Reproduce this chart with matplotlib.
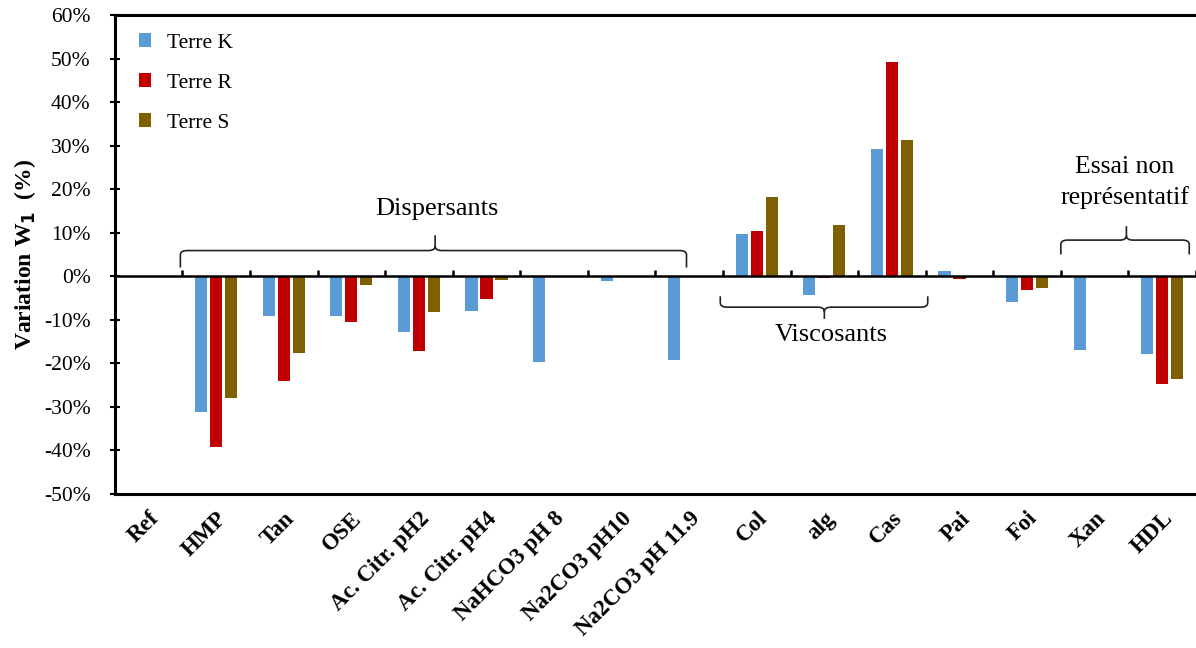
import numpy as np
import matplotlib
matplotlib.use("Agg")
import matplotlib.pyplot as plt
from matplotlib.path import Path
from matplotlib.patches import PathPatch

plt.rcParams['font.family'] = ['Liberation Serif', 'DejaVu Serif']

# data (% variation of W1)
categories = ["Ref", "HMP", "Tan", "OSE", "Ac. Citr. pH2", "Ac. Citr. pH4",
              "NaHCO3 pH 8", "Na2CO3 pH10", "Na2CO3 pH 11.9",
              "Col", "alg", "Cas", "Pai", "Foi", "Xan", "HDL"]
nan = np.nan
terre_k = [0, -31.1, -9.2, -9.1, -12.8, -8.0, -19.6, -1.1, -19.2,
           9.6, -4.4, 29.3, 1.2, -6.0, -16.9, -17.9]
terre_r = [0, -39.2, -24.0, -10.6, -17.1, -5.2, nan, nan, nan,
           10.3, -0.3, 49.2, -0.6, -3.1, nan, -24.7]
terre_s = [0, -28.0, -17.6, -2.1, -8.3, -0.9, nan, nan, nan,
           18.2, 11.8, 31.3, -0.2, -2.7, nan, -23.7]
series_names = ["Terre K", "Terre R", "Terre S"]
colors = ["#5B9BD5", "#C00000", "#7F6000"]

fig = plt.figure(figsize=(11.96, 6.48), dpi=100)
ax = fig.add_axes([0.096, 0.2377, 0.904, 0.7392])

x = np.arange(len(categories))
w = 0.18
offs = [-0.222, 0, 0.222]
for vals, name, c, o in zip([terre_k, terre_r, terre_s], series_names, colors, offs):
    ax.bar(x + o, np.array(vals, dtype=float), w, color=c, label=name,
           edgecolor='none')

ax.set_xlim(-0.5, len(categories) - 0.5)
ax.set_ylim(-50, 60)
ax.set_yticks(np.arange(-50, 61, 10))
ax.set_yticklabels([f"{v}%" for v in range(-50, 61, 10)], fontsize=15.5)
ax.tick_params(axis='y', direction='inout', length=7, width=1.5, pad=14)

ax.set_xticks(x)
ax.set_xticklabels(categories, rotation=45, ha='right', rotation_mode='anchor',
                   fontsize=16.5, fontweight='bold')
ax.tick_params(axis='x', length=0, pad=10)

for s in ['left', 'top', 'bottom']:
    ax.spines[s].set_linewidth(2.2)
ax.spines['right'].set_visible(False)

# zero line with category separators
ax.axhline(0, color='black', lw=1.8, zorder=3)
ax.vlines(np.arange(len(categories) + 1) - 0.5, 0, 1.4, color='black', lw=1.8, zorder=3)

ax.set_ylabel("Variation W$_\\mathbf{1}$  (%)", fontsize=17, fontweight='bold', labelpad=4)

leg = ax.legend(loc='upper left', frameon=False, fontsize=15.5, handlelength=0.6,
                handleheight=0.6, handletextpad=0.7, labelspacing=0.95,
                bbox_to_anchor=(0.004, 1.002))


def brace(ax, x0, x1, xc, y_line, y_end, y_tip, rx=0.1, ry=1.0):
    sgn = 1 if y_end < y_line else -1
    verts = [(x0, y_end), (x0, y_line - sgn * ry), (x0, y_line), (x0 + rx, y_line),
             (xc - rx, y_line), (xc, y_line), (xc, y_line + sgn * ry),
             (xc, y_tip),
             (xc, y_line + sgn * ry), (xc, y_line), (xc + rx, y_line),
             (x1 - rx, y_line), (x1, y_line), (x1, y_line - sgn * ry), (x1, y_end)]
    codes = [Path.MOVETO, Path.LINETO, Path.CURVE3, Path.CURVE3,
             Path.LINETO, Path.CURVE3, Path.CURVE3, Path.LINETO,
             Path.MOVETO, Path.CURVE3, Path.CURVE3,
             Path.LINETO, Path.CURVE3, Path.CURVE3, Path.LINETO]
    ax.add_patch(PathPatch(Path(verts, codes), fill=False, lw=1.2, ec='#222222'))


brace(ax, 0.47, 7.96, 4.24, 5.9, 2.0, 9.4)
ax.text(4.27, 15.5, "Dispersants", ha='center', va='center', fontsize=19)
brace(ax, 8.46, 11.53, 10.0, -7.1, -4.6, -9.8)
ax.text(10.1, -13.5, "Viscosants", ha='center', va='center', fontsize=19)
brace(ax, 13.5, 15.4, 14.47, 8.3, 5.0, 11.5)
ax.text(14.45, 21.5, "Essai non\nreprésentatif", ha='center', va='center',
        fontsize=18.5, linespacing=1.45)

fig.savefig("out.png", dpi=100)
